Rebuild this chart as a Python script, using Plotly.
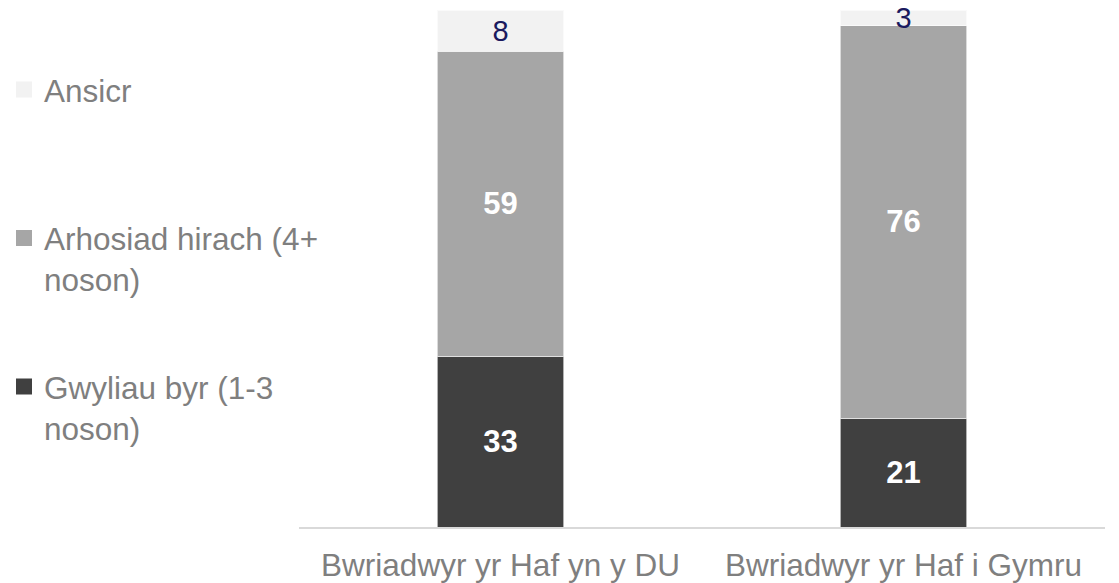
import plotly.graph_objects as go

categories = ["Bwriadwyr yr Haf yn y DU", "Bwriadwyr yr Haf i Gymru"]
series_names = ["Gwyliau byr (1-3<br>noson)", "Arhosiad hirach (4+<br>noson)", "Ansicr"]
short_vals = [33, 21]
long_vals = [59, 76]
unsure_vals = [8, 3]

colors = ["#404040", "#a6a6a6", "#f2f2f2"]
label_colors = ["white", "white", "#1a1a5e"]
label_weights = ["bold", "bold", "normal"]
label_sizes = [31, 31, 29]
legend_ids = ["legend3", "legend2", "legend"]

FONT = "Liberation Sans, Arial, sans-serif"
GRAY = "#7f7f7f"

# the page adds an 8px body margin, so the figure is sized to the visible area
W, H = 1111, 575
L, R, T, B = 291, 14, 2, 56
PW = W - L - R

fig = go.Figure()
for name, vals, col, lc, lw, ls in zip(series_names, [short_vals, long_vals, unsure_vals],
                                       colors, label_colors, label_weights, label_sizes):
    fig.add_trace(go.Bar(
        x=categories, y=vals, name=name, showlegend=False,
        marker=dict(color=col, line=dict(color="rgba(255,255,255,0.6)", width=1)),
        text=[str(v) for v in vals], textposition="inside", insidetextanchor="middle",
        constraintext="none", cliponaxis=False, textangle=0,
        textfont=dict(family=FONT, size=ls, color=lc, weight=lw),
        hoverinfo="skip",
    ))

# legend entries (square swatches)
for name, col, lid in zip(series_names, colors, legend_ids):
    fig.add_trace(go.Scatter(
        x=[None], y=[None], mode="markers", name=name, legend=lid,
        marker=dict(symbol="square", size=16, color=col),
        showlegend=True,
    ))

def legend_cfg(ytop_px):
    return dict(
        xref="paper", yref="container", x=(-4 - L) / PW, y=1 - ytop_px / H,
        xanchor="left", yanchor="top", valign="top",
        font=dict(family=FONT, size=31.5, color=GRAY),
        bgcolor="rgba(0,0,0,0)", itemsizing="trace", itemclick=False,
    )

fig.update_layout(
    width=W, height=H,
    margin=dict(l=L, r=R, t=T, b=B, autoexpand=False),
    paper_bgcolor="white", plot_bgcolor="white",
    barmode="stack", bargap=0.687,
    legend=legend_cfg(54.5),
    legend2=legend_cfg(203),
    legend3=legend_cfg(351.5),
    xaxis=dict(showline=True, linecolor="#d9d9d9", linewidth=2, ticks="",
               automargin=False, ticklabelstandoff=9,
               tickfont=dict(family=FONT, size=31.5, color=GRAY), showgrid=False),
    yaxis=dict(range=[0, 100], visible=False, showgrid=False, automargin=False),
    font=dict(family=FONT),
)

fig.write_html("out.html")
